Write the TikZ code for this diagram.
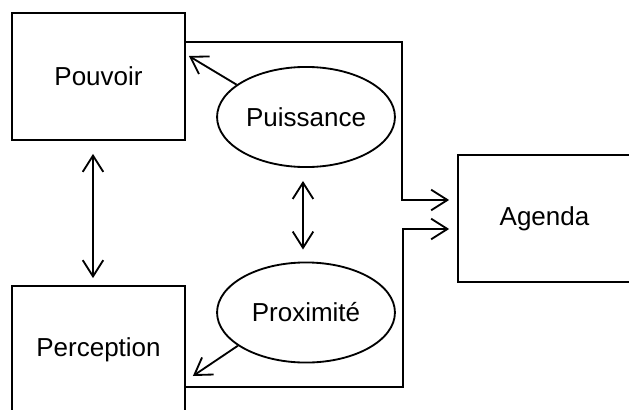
\documentclass[tikz,border=0pt]{standalone}
\usepackage{fontspec}
\setmainfont{Liberation Sans}
\usetikzlibrary{positioning, arrows.meta, shapes.geometric, calc}

\begin{document}
\begin{tikzpicture}
    [
        x=0.4615pt, y=-0.4615pt,
        box_node/.style={rectangle, draw=black, line width=0.85pt, minimum width=79.8pt, minimum height=58.6pt, font=\fontsize{12pt}{14pt}\selectfont},
        oval_node/.style={ellipse, draw=black, line width=0.85pt, inner sep=0pt, minimum width=82.1pt, minimum height=46.2pt, font=\fontsize{12pt}{14pt}\selectfont},
        barb/.style={line width=0.85pt, color=black, -{Straight Barb[length=7.5pt, width=9.5pt]}},
        dblbarb/.style={line width=0.85pt, color=black, {Straight Barb[length=7.5pt, width=9.5pt]}-{Straight Barb[length=7.5pt, width=9.5pt]}},
    ]
        \useasboundingbox (0,0) rectangle (629,409);
        \node[box_node] (pouvoir) at (98.5,76.5) {Pouvoir} ;
        \node[box_node] (perception) at (98.5,349.5) {Perception} ;
        \node[oval_node] (puissance) at (306,117) {Puissance} ;
        \node[oval_node] (proximite) at (306,312.5) {Proximité} ;
        \node[box_node] (agenda) at (544.5,218.5) {Agenda} ;
        \coordinate (bend1) at (402,200) ;
        \coordinate (bend2) at (403,229) ;
        \draw[dblbarb] ($(pouvoir.south)+(-5.5,13)$) -- ($(perception.north)+(-5.5,-7)$) ;
        \draw[dblbarb] ($(puissance.south)+(-3,13)$) -- ($(proximite.north)+(-3,-12)$) ;
        \draw[barb] (puissance.155) -- ($(pouvoir.east)+(3,-20.5)$) ;
        \draw[barb] (proximite.206) -- ($(perception.east)+(7,26.5)$) ;
        \draw[barb] ($(pouvoir.east)+(0,-34.5)$) -| (bend1) -- ($(agenda.west)+(-8,-18.5)$) ;
        \draw[barb] ($(perception.east)+(0,37.5)$) -| (bend2) -- ($(agenda.west)+(-8,10.5)$) ;
\end{tikzpicture}
\end{document}
